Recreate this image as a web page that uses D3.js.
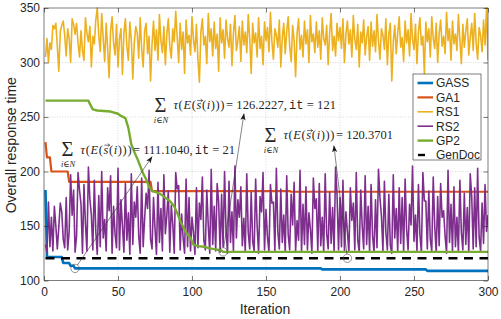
<!DOCTYPE html>
<html>
<head>
<meta charset="utf-8">
<script src="https://cdn.jsdelivr.net/npm/d3@7"></script>
<style>
  body { margin: 0; background: #fff; }
  text { fill: #262626; }
</style>
</head>
<body>
<div id="chart"></div>
<script>
// ---- data ----
const seriesNames = ["GASS", "GA1", "RS1", "RS2", "GP2", "GenDoc"];
const seriesColors = ["#0072BD", "#D95319", "#EDB120", "#7E2F8E", "#77AC30", "#000000"];

// step-like series given as [iteration, value] breakpoints
const gass = [[1,183],[2,121.5],[12,121.5],[13,116],[17,116],[18,113.5],[20,113.5],[21,111.104],
  [187,111.104],[188,110.2],[258,110.2],[259,108.8],[300,108.8]];
const ga1 = [[1,227],[2,213],[4,213],[5,200],[16,200],[17,190.5],[72,190.5],[73,182],
  [166,182],[167,181.4],[300,181.4]];
const gp2 = [[1,265],[30,265],[31,262],[33,257],[36,256],[45,255],[50,253],[52,251],[55,249],
  [57,240],[59,225],[61,218],[63,212],[65,205],[67,198],[69,193],[71,186],[73,182],[76,181],
  [79,179],[82,176],[85,173],[88,168],[90,162],[92,155],[94,149],[96,144],[99,139],[101,133],
  [104,131.5],[108,131],[112,129.5],[116,128.5],[120,127.5],[121,126.2227],[300,126.2227]];
const genDoc = [[1,120.3701],[300,120.3701]];

// random-search series, one value per iteration 1..300
const rs1 = [
  305,322,300,318,312,334,331,336,315,292,328,334,338,325,306,331,322,300,340,335,
  326,336,318,305,329,311,302,341,327,319,333,296,324,317,339,350,325,310,345,322,
  301,336,313,286,329,342,318,307,335,296,322,331,289,327,340,315,302,337,321,285,
  318,333,327,304,341,312,296,329,336,308,324,283,317,338,311,330,302,344,320,309,
  333,298,326,340,315,304,331,319,347,323,300,336,312,328,290,339,318,325,307,342,
  321,310,335,303,282,328,340,316,324,299,345,319,331,306,337,313,326,292,341,318,
  330,304,339,322,314,335,297,327,343,311,320,333,301,338,316,328,309,344,322,290,
  336,318,327,305,341,313,324,298,337,320,332,310,346,319,303,331,325,314,339,296,
  323,336,308,329,342,315,301,334,320,287,327,340,312,325,305,338,317,330,300,343,
  319,326,309,337,314,329,303,341,322,316,334,298,327,345,311,324,306,336,320,332,
  313,340,300,326,338,317,330,305,343,321,312,335,296,328,318,339,307,324,333,302,
  337,315,329,310,344,320,303,331,325,312,340,298,326,336,283,319,334,308,327,342,
  314,323,301,338,318,330,306,345,321,312,335,299,328,341,316,324,290,337,319,331,
  305,342,322,313,336,300,327,339,315,324,308,346,320,331,302,338,317,326,311,344,
  321,299,335,314,329,340,307,323,336,311,345,318,303,332,325,310,339,316,350,302
];
const rs2 = [
  133,126,172,131,158,127,168,150,129,149,171,163,138,130,176,128,145,197,160,183,
  126,141,199,183,170,125,188,152,127,204,175,160,128,192,145,124,178,131,200,139,
  156,127,185,164,196,125,168,143,130,203,128,174,150,126,189,137,162,124,198,133,
  172,158,186,141,125,194,131,157,180,166,201,138,129,176,148,124,190,135,166,127,
  197,143,160,182,126,169,152,125,199,184,187,128,161,139,125,193,131,176,127,158,
  144,124,185,130,171,156,195,137,128,183,150,125,202,133,168,127,189,172,126,179,
  131,200,146,125,191,135,163,127,205,139,174,158,186,132,157,126,198,144,129,181,
  136,127,193,150,125,177,163,199,128,165,140,126,188,171,172,127,203,145,129,184,
  135,160,126,196,142,128,179,151,190,127,155,137,201,126,170,133,186,128,162,147,
  125,194,166,175,127,189,132,158,126,198,143,129,181,134,167,126,204,179,128,176,
  131,192,127,163,145,126,185,155,171,128,199,137,126,183,150,129,196,133,168,127,
  188,141,126,174,130,202,176,159,127,191,144,128,179,132,125,197,139,166,127,185,
  134,176,126,193,147,128,170,151,205,136,160,127,188,142,126,199,173,173,129,182,
  138,127,195,150,126,177,132,189,158,164,141,125,201,135,170,127,186,131,158,126,
  192,144,128,180,133,167,126,198,177,129,185,131,203,140,127,171,134,188,145,160
];

const xTicks = [0, 50, 100, 150, 200, 250, 300];
const yTicks = [100, 150, 200, 250, 300, 350];

// annotated points: iteration, value, printed value, printed iteration
const notePoints = [
  { it: 21,  value: 111.1040, shown: "111.1040", itShown: "21" },
  { it: 121, value: 126.2227, shown: "126.2227", itShown: "121" },
  { it: 205, value: 120.3701, shown: "120.3701", itShown: null }
];

// ---- layout ----
const margin = { top: 8, right: 13, bottom: 38.5, left: 44 };
const width = 501 - margin.left - margin.right;
const height = 319 - margin.top - margin.bottom;
const sans = "'Liberation Sans', Arial, Helvetica, sans-serif";
const serif = "'Liberation Serif', 'Times New Roman', 'DejaVu Serif', serif";
const mono = "'Liberation Mono', 'DejaVu Sans Mono', monospace";

// label anchor (left of the sum sign, baseline), arrow head (data units), width of the "= ..." part
const noteLayout = [
  { text: [12.2, 216.1], head: [73, 213.5], restW: 102 },
  { text: [75.0, 257.0], head: [135.1, 253], restW: 110 },
  { text: [149.3, 229.5], head: [195.9, 223.6], restW: 57 }
];

const svg = d3.select("#chart")
  .append("svg")
  .attr("width", 501)
  .attr("height", 319)
  .append("g")
  .attr("transform", `translate(${margin.left}, ${margin.top})`);

const x = d3.scaleLinear().domain([0, 300]).range([0, width]);
const y = d3.scaleLinear().domain([100, 350]).range([height, 0]);

// grid
svg.append("g").selectAll("line")
  .data(xTicks.slice(1, -1))
  .join("line")
  .attr("x1", d => x(d)).attr("x2", d => x(d))
  .attr("y1", 0).attr("y2", height)
  .attr("stroke", "#c8c8c8").attr("stroke-width", 0.7)
  .attr("stroke-dasharray", "1,1.6");
svg.append("g").selectAll("line")
  .data(yTicks.slice(1, -1))
  .join("line")
  .attr("y1", d => y(d)).attr("y2", d => y(d))
  .attr("x1", 0).attr("x2", width)
  .attr("stroke", "#c8c8c8").attr("stroke-width", 0.7)
  .attr("stroke-dasharray", "1,1.6");

// series
svg.append("clipPath").attr("id", "plotClip")
  .append("rect").attr("x", 0).attr("y", -1).attr("width", width).attr("height", height + 1);

const line = d3.line().x(d => x(d[0])).y(d => y(d[1]));
const indexed = arr => arr.map((v, i) => [i + 1, v]);

const plotted = [
  { data: gass, color: seriesColors[0], w: 2.6 },
  { data: ga1, color: seriesColors[1], w: 2.2 },
  { data: indexed(rs1), color: seriesColors[2], w: 1.6 },
  { data: indexed(rs2), color: seriesColors[3], w: 1.6 },
  { data: gp2, color: seriesColors[4], w: 2.4 },
  { data: genDoc, color: seriesColors[5], w: 2.4, dash: "9,6.5" }
];

const plotG = svg.append("g").attr("clip-path", "url(#plotClip)");
plotted.forEach(s => {
  plotG.append("path")
    .datum(s.data)
    .attr("fill", "none")
    .attr("stroke", s.color)
    .attr("stroke-width", s.w)
    .attr("stroke-linejoin", "round")
    .attr("stroke-dasharray", s.dash || null)
    .attr("d", line);
});

// axes
const xAxis = d3.axisBottom(x).tickValues(xTicks).tickSizeInner(-4.5).tickSizeOuter(0).tickPadding(7);
const yAxis = d3.axisLeft(y).tickValues(yTicks).tickSizeInner(-4.5).tickSizeOuter(0).tickPadding(4);

function styleAxis(g) {
  g.select(".domain").remove();
  g.selectAll("line").attr("stroke", "#262626").attr("stroke-width", 0.6);
  g.selectAll("text").attr("font-family", sans).attr("font-size", 12).attr("fill", "#262626");
}
svg.append("g").attr("transform", `translate(0, ${height})`).call(xAxis).call(styleAxis);
svg.append("g").call(yAxis).call(styleAxis);
svg.append("g").call(d3.axisTop(x).tickValues(xTicks).tickSizeInner(-4.5).tickSizeOuter(0).tickFormat(""))
  .call(styleAxis);
svg.append("g").attr("transform", `translate(${width}, 0)`)
  .call(d3.axisRight(y).tickValues(yTicks).tickSizeInner(-4.5).tickSizeOuter(0).tickFormat(""))
  .call(styleAxis);

svg.append("rect")
  .attr("x", 0).attr("y", 0).attr("width", width).attr("height", height)
  .attr("fill", "none").attr("stroke", "#262626").attr("stroke-width", 0.6);

// axis labels
svg.append("text")
  .attr("x", width / 2 - 1).attr("y", height + 33.5)
  .attr("text-anchor", "middle")
  .attr("font-family", sans).attr("font-size", 14)
  .text("Iteration");
svg.append("text")
  .attr("transform", `translate(${-28}, ${height / 2 + 1}) rotate(-90)`)
  .attr("text-anchor", "middle")
  .attr("font-family", sans).attr("font-size", 14)
  .text("Overall response time");

// annotations
svg.append("defs").append("marker")
  .attr("id", "head")
  .attr("viewBox", "0 -3 7 6")
  .attr("refX", 6.5).attr("refY", 0)
  .attr("markerWidth", 7).attr("markerHeight", 6)
  .attr("markerUnits", "userSpaceOnUse")
  .attr("orient", "auto")
  .append("path")
  .attr("d", "M0,-2.6L7,0L0,2.6L1.8,0Z")
  .attr("fill", "#1a1a1a");

notePoints.forEach((p, i) => {
  const lay = noteLayout[i];
  const cx = x(p.it), cy = y(p.value);
  const hx = x(lay.head[0]), hy = y(lay.head[1]);
  const r = 4.2;
  const len = Math.hypot(hx - cx, hy - cy);
  const g = svg.append("g");

  g.append("circle")
    .attr("cx", cx).attr("cy", cy).attr("r", r)
    .attr("fill", "none").attr("stroke", "#4d4d4d").attr("stroke-width", 0.6);

  g.append("line")
    .attr("x1", cx + (hx - cx) / len * r).attr("y1", cy + (hy - cy) / len * r)
    .attr("x2", hx).attr("y2", hy)
    .attr("stroke", "#333").attr("stroke-width", 0.6)
    .attr("marker-end", "url(#head)");

  const tx = x(lay.text[0]), ty = y(lay.text[1]);
  // big summation sign with its index below
  g.append("text")
    .attr("x", tx - 0.5).attr("y", ty + 2.5)
    .attr("font-family", serif).attr("font-size", 20.5)
    .attr("fill", "#1a1a1a")
    .text("\u03A3");
  const sub = g.append("text")
    .attr("x", tx + 6).attr("y", ty + 13.5)
    .attr("text-anchor", "middle")
    .attr("font-family", serif).attr("font-size", 8.5)
    .attr("fill", "#1a1a1a");
  sub.append("tspan").attr("font-style", "italic").text("i");
  sub.append("tspan").text("\u2208");
  sub.append("tspan").attr("font-style", "italic").text("N");

  // tau(E(s(i)))
  const mx = tx + 18.5;
  const t = g.append("text")
    .attr("x", mx).attr("y", ty)
    .attr("font-family", serif).attr("font-size", 12.5)
    .attr("textLength", 51).attr("lengthAdjust", "spacing")
    .attr("fill", "#1a1a1a");
  t.append("tspan").attr("font-style", "italic").text("\u03C4");
  t.append("tspan").text("(");
  t.append("tspan").attr("font-style", "italic").text("E");
  t.append("tspan").text("(");
  t.append("tspan").attr("font-style", "italic").text("s");
  t.append("tspan").text("(");
  t.append("tspan").attr("font-style", "italic").text("i");
  t.append("tspan").text(")))");

  // vector arrow over the "s" (character index 4)
  const ext = t.node().getExtentOfChar(4);
  const ax0 = ext.x + 0.8, ax1 = ext.x + ext.width + 1.4, ay = ty - 8.8;
  g.append("path")
    .attr("d", `M${ax0},${ay}L${ax1},${ay}M${ax1 - 2},${ay - 1.5}L${ax1},${ay}L${ax1 - 2},${ay + 1.5}`)
    .attr("fill", "none").attr("stroke", "#1a1a1a").attr("stroke-width", 0.6);

  // "= value, it = n"
  const rest = g.append("text")
    .attr("x", mx + 52.5).attr("y", ty)
    .attr("font-family", serif).attr("font-size", 12.5)
    .attr("textLength", lay.restW).attr("lengthAdjust", "spacing")
    .attr("fill", "#1a1a1a");
  rest.append("tspan").text("=\u2005" + p.shown);
  if (p.itShown) {
    rest.append("tspan").text(",\u2006");
    rest.append("tspan").attr("font-family", mono).attr("font-size", 12).text("it");
    rest.append("tspan").text("\u2005=\u2005" + p.itShown);
  }
});

// legend
const legend = svg.append("g").attr("transform", `translate(${413 - margin.left}, ${74 - margin.top})`);
legend.append("rect")
  .attr("width", 68).attr("height", 86)
  .attr("fill", "#fff").attr("stroke", "#262626").attr("stroke-width", 0.6);
seriesNames.forEach((name, i) => {
  const row = legend.append("g").attr("transform", `translate(0, ${9 + i * 14.4})`);
  row.append("line")
    .attr("x1", name === "GenDoc" ? 5 : 4.5).attr("x2", name === "GenDoc" ? 12 : 20)
    .attr("stroke", seriesColors[i])
    .attr("stroke-width", plotted[i].w);
  row.append("text")
    .attr("x", 23).attr("dy", "0.36em")
    .attr("font-family", sans).attr("font-size", 12)
    .text(name);
});
</script>
</body>
</html>
